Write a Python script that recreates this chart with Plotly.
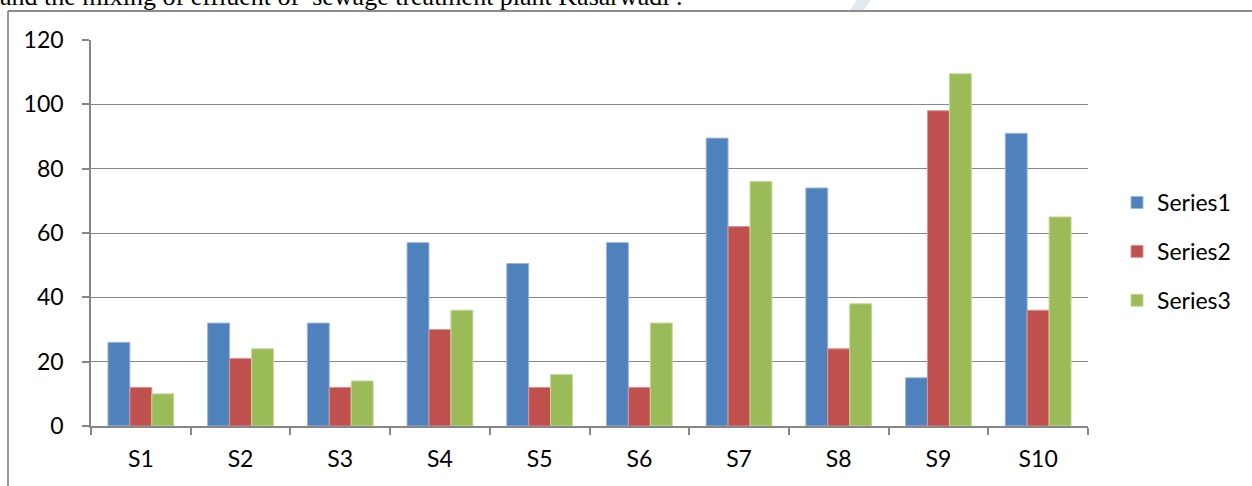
import plotly.graph_objects as go

# Sampling sites and measured values for the three series
sites = ["S1", "S2", "S3", "S4", "S5", "S6", "S7", "S8", "S9", "S10"]
series1 = [26, 32, 32, 57, 50.5, 57, 89.5, 74, 15, 91]
series2 = [12, 21, 12, 30, 12, 12, 62, 24, 98, 36]
series3 = [10, 24, 14, 36, 16, 32, 76, 38, 109.5, 65]
series_names = ["Series1", "Series2", "Series3"]
y_ticks = [0, 20, 40, 60, 80, 100, 120]

colors = ["#4F81BD", "#C0504D", "#9BBB59"]
edge_colors = ["#9DB7DA", "#DA9593", "#C3D89C"]

W, H = 1252, 486
L, R, T, B = 91, 164, 40, 60
plot_w = W - L - R
plot_h = H - T - B


def px_x(px):
    return (px - L) / plot_w


def px_y(py):
    return (H - B - py) / plot_h


fig = go.Figure()
for i, (name, vals) in enumerate(zip(series_names, [series1, series2, series3])):
    fig.add_trace(go.Bar(
        x=sites, y=vals, name=name, legendgroup=name,
        marker=dict(color=colors[i], line=dict(color=edge_colors[i], width=1)),
    ))

grid_col = "#878787"
font_main = dict(family="Lato, 'Open Sans', sans-serif", size=23, color="#000000")

fig.update_layout(
    width=W, height=H,
    margin=dict(l=L, r=R, t=T, b=B),
    paper_bgcolor="white", plot_bgcolor="white",
    barmode="group", bargap=0.34, bargroupgap=0,
    font=font_main,
    showlegend=True,
    legend=dict(
        x=px_x(1117), y=px_y(181), xanchor="left", yanchor="top",
        traceorder="grouped", tracegroupgap=16,
        font=font_main,
        itemwidth=30, bgcolor="rgba(0,0,0,0)",
    ),
    xaxis=dict(
        type="category", showgrid=False, showline=True, linecolor=grid_col, linewidth=1.5,
        ticks="outside", tickson="boundaries", ticklen=7, tickcolor=grid_col, tickwidth=1.5,
        tickfont=font_main, ticklabelstandoff=12,
    ),
    yaxis=dict(
        range=[0, 120], tickvals=y_ticks, showgrid=True, gridcolor=grid_col, gridwidth=1.3,
        showline=True, linecolor=grid_col, linewidth=1.5, zeroline=False,
        ticks="outside", ticklen=7, tickcolor=grid_col, tickwidth=1.5,
        tickfont=font_main, ticklabelstandoff=14,
    ),
)

# Chart frame (top and left edges visible)
fig.add_shape(type="line", xref="paper", yref="paper",
              x0=px_x(8), x1=px_x(1260), y0=px_y(11), y1=px_y(11),
              line=dict(color="#8C8C8C", width=1.8))
fig.add_shape(type="line", xref="paper", yref="paper",
              x0=px_x(8), x1=px_x(8), y0=px_y(11), y1=px_y(495),
              line=dict(color="#8C8C8C", width=1.8))

# Faint watermark stroke near the top
fig.add_shape(type="path", xref="paper", yref="paper",
              path=f"M {px_x(850)} {px_y(10)} L {px_x(858)} {px_y(-2)} L {px_x(872)} {px_y(-2)} L {px_x(864)} {px_y(10)} Z",
              fillcolor="#E3E8EC", line=dict(width=0), layer="below")

# Surrounding document text, partly cut off at the top
fig.add_annotation(
    text="and the mixing of effluent of  sewage treatment plant Kasarwadi .",
    xref="paper", yref="paper", x=px_x(-2), y=px_y(13),
    xanchor="left", yanchor="bottom", showarrow=False,
    font=dict(family="Liberation Serif, serif", size=26, color="#000000"),
)

fig.write_html("out.html")
